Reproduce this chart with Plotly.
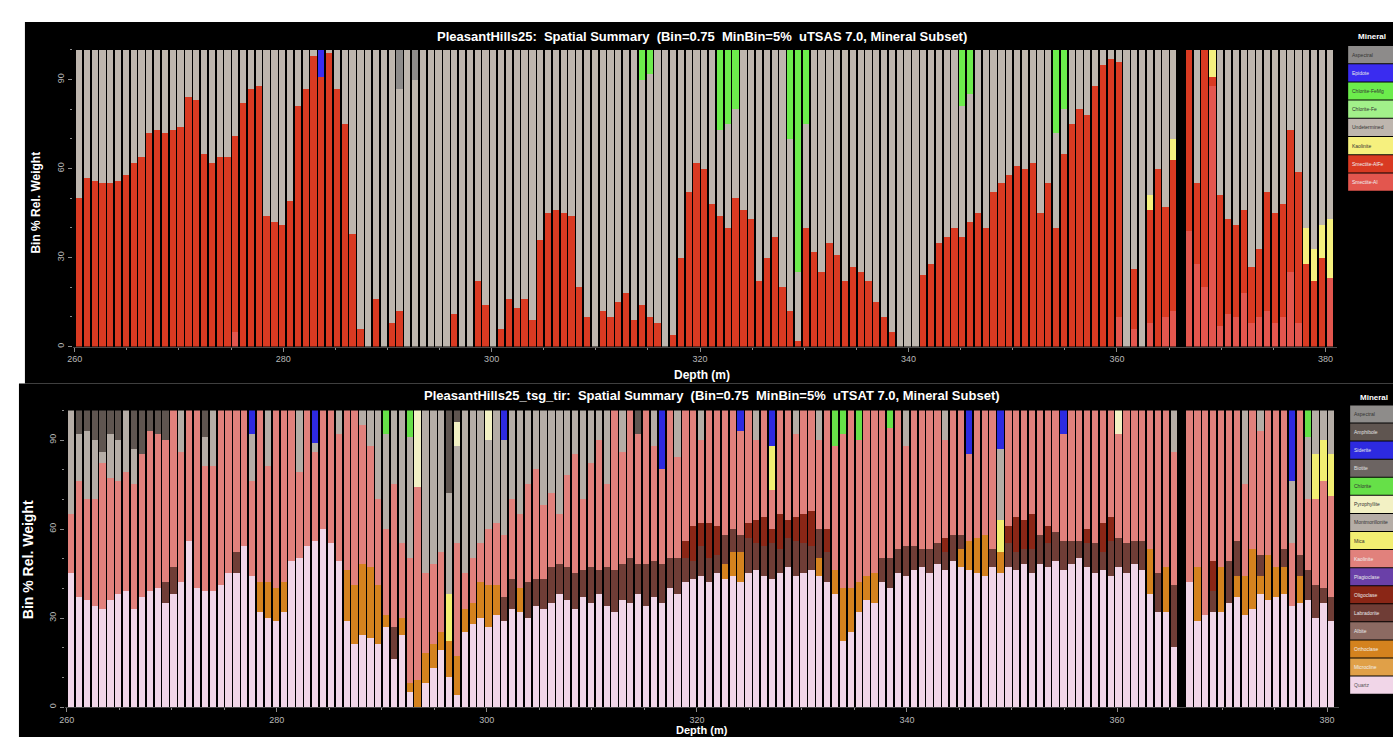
import plotly.graph_objects as go

W, H = 1393, 738

# Bin start depths (m), Bin = 0.75 m; data gap between 365.75 and 366.5 m
depth = [
    260.0, 260.75, 261.5, 262.25, 263.0, 263.75, 264.5, 265.25,
    266.0, 266.75, 267.5, 268.25, 269.0, 269.75, 270.5, 271.25,
    272.0, 272.75, 273.5, 274.25, 275.0, 275.75, 276.5, 277.25,
    278.0, 278.75, 279.5, 280.25, 281.0, 281.75, 282.5, 283.25,
    284.0, 284.75, 285.5, 286.25, 287.0, 287.75, 288.5, 289.25,
    290.0, 290.75, 291.5, 292.25, 293.0, 293.75, 294.5, 295.25,
    296.0, 296.75, 297.5, 298.25, 299.0, 299.75, 300.5, 301.25,
    302.0, 302.75, 303.5, 304.25, 305.0, 305.75, 306.5, 307.25,
    308.0, 308.75, 309.5, 310.25, 311.0, 311.75, 312.5, 313.25,
    314.0, 314.75, 315.5, 316.25, 317.0, 317.75, 318.5, 319.25,
    320.0, 320.75, 321.5, 322.25, 323.0, 323.75, 324.5, 325.25,
    326.0, 326.75, 327.5, 328.25, 329.0, 329.75, 330.5, 331.25,
    332.0, 332.75, 333.5, 334.25, 335.0, 335.75, 336.5, 337.25,
    338.0, 338.75, 339.5, 340.25, 341.0, 341.75, 342.5, 343.25,
    344.0, 344.75, 345.5, 346.25, 347.0, 347.75, 348.5, 349.25,
    350.0, 350.75, 351.5, 352.25, 353.0, 353.75, 354.5, 355.25,
    356.0, 356.75, 357.5, 358.25, 359.0, 359.75, 360.5, 361.25,
    362.0, 362.75, 363.5, 364.25, 365.0,
    366.5, 367.25, 368.0, 368.75, 369.5, 370.25, 371.0, 371.75,
    372.5, 373.25, 374.0, 374.75, 375.5, 376.25, 377.0, 377.75,
    378.5, 379.25, 380.0,
]

# ---------------- uTSAS (SWIR) mineral subset, % per bin ----------------
tsas_names = ["Aspectral", "Epidote", "Chlorite-FeMg", "Chlorite-Fe",
              "Undetermined", "Kaolinite", "Smectite-AlFe", "Smectite-Al"]
tsas_colors = ["#8d8b8a", "#3a2cf0", "#6cec4c", "#a2f08a",
               "#beb6ae", "#f6f07e", "#d93a22", "#e3564e"]
tsas_text = ["#333333", "#e8e8e8", "#333333", "#333333",
             "#333333", "#333333", "#f0f0f0", "#f0f0f0"]

tsas_smectite_al = [
    0, 0, 0, 0, 0, 0, 0, 0, 0, 0,
    0, 0, 0, 0, 0, 0, 0, 0, 0, 0,
    5, 0, 0, 0, 0, 0, 0, 0, 0, 0,
    0, 0, 0, 0, 0, 0, 0, 0, 0, 0,
    0, 0, 0, 0, 0, 0, 0, 0, 0, 0,
    0, 0, 0, 0, 0, 0, 0, 0, 0, 0,
    0, 0, 0, 0, 0, 0, 0, 0, 0, 0,
    0, 0, 0, 0, 0, 0, 0, 0, 0, 0,
    0, 0, 0, 0, 0, 0, 0, 0, 0, 0,
    0, 0, 0, 0, 0, 0, 0, 0, 0, 0,
    0, 0, 0, 0, 0, 0, 0, 0, 0, 0,
    0, 0, 0, 0, 0, 0, 0, 0, 0, 0,
    0, 0, 0, 0, 0, 0, 0, 0, 0, 0,
    0, 0, 0, 10, 0, 6, 0, 8, 0, 10,
    12,
    39, 28, 20, 88, 7, 11, 10, 18, 8, 10, 12, 8, 10, 25, 8, 0, 0, 0, 23,
]
tsas_smectite_alfe = [
    50, 57, 56, 55, 55, 56, 58, 62, 64, 72,
    73, 72, 73, 74, 84, 83, 65, 62, 64, 64,
    66, 82, 87, 88, 44, 42, 41, 49, 81, 87,
    98, 91, 99, 87, 75, 38, 6, 0, 16, 0,
    8, 12, 0, 0, 0, 0, 0, 0, 11, 0,
    0, 22, 14, 0, 6, 16, 13, 16, 9, 36,
    45, 46, 45, 44, 20, 10, 0, 12, 10, 15,
    18, 9, 14, 10, 8, 0, 4, 30, 52, 62,
    60, 48, 44, 40, 50, 46, 43, 22, 30, 37,
    20, 12, 2, 40, 32, 25, 35, 31, 22, 27,
    25, 22, 15, 10, 5, 0, 0, 0, 24, 28,
    35, 37, 40, 37, 42, 45, 40, 52, 55, 58,
    61, 60, 62, 45, 55, 40, 65, 75, 80, 78,
    88, 95, 97, 86, 0, 20, 0, 38, 60, 37,
    51,
    61, 27, 80, 3, 44, 32, 31, 28, 19, 23, 40, 37, 38, 48, 51, 28, 22, 30, 0,
]
tsas_kaolinite = [
    0, 0, 0, 0, 0, 0, 0, 0, 0, 0,
    0, 0, 0, 0, 0, 0, 0, 0, 0, 0,
    0, 0, 0, 0, 0, 0, 0, 0, 0, 0,
    0, 0, 0, 0, 0, 0, 0, 0, 0, 0,
    0, 0, 0, 0, 0, 0, 0, 0, 0, 0,
    0, 0, 0, 0, 0, 0, 0, 0, 0, 0,
    0, 0, 0, 0, 0, 0, 0, 0, 0, 0,
    0, 0, 0, 0, 0, 0, 0, 0, 0, 0,
    0, 0, 0, 0, 0, 0, 0, 0, 0, 0,
    0, 0, 0, 0, 0, 0, 0, 0, 0, 0,
    0, 0, 0, 0, 0, 0, 0, 0, 0, 0,
    0, 0, 0, 0, 0, 0, 0, 0, 0, 0,
    0, 0, 0, 0, 0, 0, 0, 0, 0, 0,
    0, 0, 0, 0, 0, 0, 0, 5, 0, 0,
    7,
    0, 0, 0, 9, 0, 0, 0, 0, 0, 0, 0, 0, 0, 0, 0, 12, 11, 11, 20,
]
tsas_undetermined = [
    50, 43, 44, 45, 45, 44, 42, 38, 36, 28,
    27, 28, 27, 26, 16, 17, 35, 38, 36, 36,
    29, 18, 13, 12, 56, 58, 59, 51, 19, 13,
    2, 0, 1, 13, 25, 62, 94, 100, 84, 100,
    92, 75, 100, 90, 100, 100, 100, 100, 89, 100,
    100, 78, 86, 100, 94, 84, 87, 84, 91, 64,
    55, 54, 55, 56, 80, 90, 100, 88, 90, 85,
    82, 91, 76, 82, 92, 100, 96, 70, 48, 38,
    40, 52, 29, 35, 30, 54, 57, 78, 70, 63,
    80, 58, 23, 35, 68, 75, 65, 69, 78, 73,
    75, 78, 85, 90, 95, 100, 100, 100, 76, 72,
    65, 63, 60, 44, 43, 55, 60, 48, 45, 42,
    39, 40, 38, 55, 45, 32, 15, 25, 20, 22,
    12, 5, 3, 4, 100, 74, 100, 49, 40, 53,
    30,
    0, 45, 0, 0, 49, 57, 59, 54, 73, 67, 48, 55, 52, 27, 41, 60, 67, 59, 57,
]
tsas_chlorite_femg = [
    0, 0, 0, 0, 0, 0, 0, 0, 0, 0,
    0, 0, 0, 0, 0, 0, 0, 0, 0, 0,
    0, 0, 0, 0, 0, 0, 0, 0, 0, 0,
    0, 0, 0, 0, 0, 0, 0, 0, 0, 0,
    0, 0, 0, 0, 0, 0, 0, 0, 0, 0,
    0, 0, 0, 0, 0, 0, 0, 0, 0, 0,
    0, 0, 0, 0, 0, 0, 0, 0, 0, 0,
    0, 0, 10, 8, 0, 0, 0, 0, 0, 0,
    0, 0, 27, 25, 20, 0, 0, 0, 0, 0,
    0, 30, 75, 25, 0, 0, 0, 0, 0, 0,
    0, 0, 0, 0, 0, 0, 0, 0, 0, 0,
    0, 0, 0, 19, 15, 0, 0, 0, 0, 0,
    0, 0, 0, 0, 0, 28, 20, 0, 0, 0,
    0, 0, 0, 0, 0, 0, 0, 0, 0, 0,
    0,
    0, 0, 0, 0, 0, 0, 0, 0, 0, 0, 0, 0, 0, 0, 0, 0, 0, 0, 0,
]
tsas_epidote = [
    0, 0, 0, 0, 0, 0, 0, 0, 0, 0,
    0, 0, 0, 0, 0, 0, 0, 0, 0, 0,
    0, 0, 0, 0, 0, 0, 0, 0, 0, 0,
    0, 9, 0, 0, 0, 0, 0, 0, 0, 0,
    0, 0, 0, 0, 0, 0, 0, 0, 0, 0,
    0, 0, 0, 0, 0, 0, 0, 0, 0, 0,
    0, 0, 0, 0, 0, 0, 0, 0, 0, 0,
    0, 0, 0, 0, 0, 0, 0, 0, 0, 0,
    0, 0, 0, 0, 0, 0, 0, 0, 0, 0,
    0, 0, 0, 0, 0, 0, 0, 0, 0, 0,
    0, 0, 0, 0, 0, 0, 0, 0, 0, 0,
    0, 0, 0, 0, 0, 0, 0, 0, 0, 0,
    0, 0, 0, 0, 0, 0, 0, 0, 0, 0,
    0, 0, 0, 0, 0, 0, 0, 0, 0, 0,
    0,
    0, 0, 0, 0, 0, 0, 0, 0, 0, 0, 0, 0, 0, 0, 0, 0, 0, 0, 0,
]
tsas_aspectral = [
    0, 0, 0, 0, 0, 0, 0, 0, 0, 0,
    0, 0, 0, 0, 0, 0, 0, 0, 0, 0,
    0, 0, 0, 0, 0, 0, 0, 0, 0, 0,
    0, 0, 0, 0, 0, 0, 0, 0, 0, 0,
    0, 13, 0, 10, 0, 0, 0, 0, 0, 0,
    0, 0, 0, 0, 0, 0, 0, 0, 0, 0,
    0, 0, 0, 0, 0, 0, 0, 0, 0, 0,
    0, 0, 0, 0, 0, 0, 0, 0, 0, 0,
    0, 0, 0, 0, 0, 0, 0, 0, 0, 0,
    0, 0, 0, 0, 0, 0, 0, 0, 0, 0,
    0, 0, 0, 0, 0, 0, 0, 0, 0, 0,
    0, 0, 0, 0, 0, 0, 0, 0, 0, 0,
    0, 0, 0, 0, 0, 0, 0, 0, 0, 0,
    0, 0, 0, 0, 0, 0, 0, 0, 0, 0,
    0,
    0, 0, 0, 0, 0, 0, 0, 0, 0, 0, 0, 0, 0, 0, 0, 0, 0, 0, 0,
]

# stacking order, bottom to top
tsas_stack = [
    ("Smectite-Al", tsas_smectite_al),
    ("Smectite-AlFe", tsas_smectite_alfe),
    ("Kaolinite", tsas_kaolinite),
    ("Undetermined", tsas_undetermined),
    ("Chlorite-FeMg", tsas_chlorite_femg),
    ("Epidote", tsas_epidote),
    ("Aspectral", tsas_aspectral),
]

# ---------------- uTSAT (TIR) mineral subset, % per bin ----------------
tsat_names = ["Aspectral", "Amphibole", "Siderite", "Biotite", "Chlorite",
              "Pyrophyllite", "Montmorillonite", "Mica", "Kaolinite",
              "Plagioclase", "Oligoclase", "Labradorite", "Albite",
              "Orthoclase", "Microcline", "Quartz"]
tsat_colors = ["#8e8c8a", "#5f5550", "#2d2ae0", "#6c6462", "#66e048",
               "#f3f1c4", "#b5ada6", "#f2ee72", "#e1817c",
               "#6a40a8", "#8a2616", "#6f3d36", "#8c6a62",
               "#d4821e", "#e0a048", "#f1d6e8"]
tsat_text = ["#333333", "#e0e0e0", "#e8e8e8", "#e0e0e0", "#333333",
             "#333333", "#333333", "#333333", "#f0f0f0",
             "#e8e8e8", "#e8e8e8", "#e8e8e8", "#e8e8e8",
             "#f0f0f0", "#f0f0f0", "#555555"]

tsat_quartz = [
    45, 37, 36, 34, 33, 36, 38, 39, 33, 37,
    39, 40, 35, 38, 42, 56, 40, 39, 39, 41,
    45, 45, 54, 44, 32, 30, 29, 32, 49, 50,
    54, 56, 60, 55, 49, 29, 21, 24, 23, 21,
    27, 16, 24, 5, 0, 8, 13, 19, 10, 4,
    25, 28, 30, 27, 31, 29, 33, 32, 30, 34,
    33, 35, 38, 36, 33, 37, 35, 38, 34, 32,
    36, 35, 38, 34, 37, 35, 40, 38, 42, 43,
    44, 42, 45, 43, 44, 42, 45, 46, 44, 43,
    45, 47, 44, 45, 46, 44, 42, 38, 22, 25,
    32, 36, 35, 42, 40, 45, 44, 46, 47, 45,
    48, 46, 49, 47, 46, 45, 44, 47, 45, 47,
    46, 48, 45, 48, 47, 49, 46, 48, 50, 47,
    45, 46, 44, 47, 45, 48, 46, 38, 32, 32,
    20,
    42, 29, 31, 32, 32, 35, 37, 31, 33, 38, 36, 37, 38, 34, 35, 36, 30, 35, 29,
]
tsat_orthoclase = [
    0, 0, 0, 0, 0, 0, 0, 0, 0, 0,
    0, 0, 0, 0, 0, 0, 0, 0, 0, 0,
    0, 0, 0, 0, 10, 12, 11, 10, 0, 0,
    0, 0, 0, 0, 0, 17, 20, 24, 24, 20,
    4, 0, 6, 3, 9, 10, 8, 6, 12, 13,
    8, 7, 12, 14, 10, 0, 0, 8, 0, 0,
    0, 0, 0, 0, 0, 0, 0, 0, 0, 0,
    0, 0, 0, 0, 0, 0, 0, 0, 0, 0,
    0, 0, 0, 5, 8, 10, 0, 0, 0, 0,
    0, 0, 0, 0, 0, 6, 0, 8, 18, 15,
    10, 8, 10, 0, 0, 0, 0, 0, 0, 0,
    0, 0, 0, 6, 10, 12, 14, 0, 7, 0,
    0, 0, 0, 0, 0, 0, 0, 0, 0, 0,
    0, 0, 0, 0, 0, 0, 0, 15, 0, 15,
    0,
    0, 18, 0, 0, 15, 0, 7, 13, 20, 6, 15, 10, 9, 0, 9, 0, 0, 0, 0,
]
tsat_labradorite = [
    0, 0, 0, 0, 0, 0, 0, 0, 0, 0,
    0, 0, 7, 9, 0, 0, 0, 0, 0, 0,
    0, 7, 0, 0, 0, 0, 0, 0, 0, 0,
    0, 0, 0, 0, 0, 0, 0, 0, 0, 0,
    0, 11, 0, 0, 0, 0, 0, 0, 0, 0,
    0, 0, 0, 0, 0, 8, 10, 0, 12, 9,
    10, 12, 10, 11, 12, 9, 12, 8, 13, 14,
    12, 15, 10, 14, 12, 13, 10, 12, 8, 6,
    10, 8, 6, 10, 8, 6, 12, 9, 10, 12,
    8, 10, 12, 10, 8, 10, 10, 0, 0, 0,
    0, 0, 0, 8, 10, 8, 10, 8, 6, 8,
    7, 6, 9, 5, 0, 0, 0, 6, 0, 8,
    6, 5, 8, 10, 8, 10, 10, 8, 6, 8,
    10, 6, 12, 10, 10, 8, 10, 0, 13, 0,
    21,
    0, 0, 0, 7, 0, 14, 12, 0, 0, 7, 0, 0, 6, 0, 7, 10, 11, 5, 8,
]
tsat_oligoclase = [
    0, 0, 0, 0, 0, 0, 0, 0, 0, 0,
    0, 0, 0, 0, 0, 0, 0, 0, 0, 0,
    0, 0, 0, 0, 0, 0, 0, 0, 0, 0,
    0, 0, 0, 0, 0, 0, 0, 0, 0, 0,
    0, 0, 0, 0, 0, 0, 0, 0, 0, 0,
    0, 0, 0, 0, 0, 0, 0, 0, 0, 0,
    0, 0, 0, 0, 0, 0, 0, 0, 0, 0,
    0, 0, 0, 0, 0, 0, 0, 0, 6, 12,
    8, 12, 10, 0, 0, 0, 5, 8, 10, 5,
    12, 6, 8, 10, 12, 0, 8, 0, 0, 0,
    0, 0, 0, 0, 0, 0, 0, 0, 0, 0,
    0, 5, 0, 0, 0, 0, 0, 0, 0, 6,
    12, 10, 12, 0, 6, 0, 0, 0, 0, 5,
    0, 10, 8, 0, 0, 0, 0, 0, 0, 0,
    0,
    0, 0, 0, 10, 0, 0, 0, 0, 0, 0, 0, 0, 0, 0, 0, 0, 0, 0, 0,
]
tsat_kaolinite = [
    20, 39, 34, 36, 49, 41, 38, 40, 42, 48,
    54, 52, 48, 53, 44, 44, 60, 42, 42, 59,
    55, 48, 46, 32, 58, 39, 60, 58, 51, 29,
    46, 30, 40, 45, 43, 54, 59, 47, 41, 29,
    29, 48, 25, 42, 65, 27, 27, 27, 0, 38,
    12, 15, 13, 19, 21, 21, 27, 25, 33, 37,
    25, 25, 17, 31, 40, 24, 35, 44, 28, 54,
    38, 50, 44, 52, 39, 32, 50, 34, 44, 39,
    28, 38, 39, 42, 40, 35, 38, 27, 36, 13,
    35, 37, 28, 35, 34, 30, 40, 42, 52, 60,
    48, 56, 55, 50, 44, 47, 34, 46, 47, 47,
    45, 33, 42, 42, 29, 43, 42, 47, 0, 39,
    36, 37, 35, 42, 39, 41, 36, 44, 44, 40,
    45, 38, 36, 35, 45, 44, 44, 47, 55, 53,
    45,
    58, 53, 69, 51, 53, 51, 44, 31, 47, 42, 49, 53, 47, 21, 49, 24, 29, 36, 34,
]
tsat_mica = [
    0, 0, 0, 0, 0, 0, 0, 0, 0, 0,
    0, 0, 0, 0, 0, 0, 0, 0, 0, 0,
    0, 0, 0, 0, 0, 0, 0, 0, 0, 0,
    0, 0, 0, 0, 0, 0, 0, 0, 0, 0,
    0, 0, 0, 0, 0, 0, 0, 0, 16, 0,
    0, 0, 0, 0, 0, 0, 0, 0, 0, 0,
    0, 0, 0, 0, 0, 0, 0, 0, 0, 0,
    0, 0, 0, 0, 0, 0, 0, 0, 0, 0,
    0, 0, 0, 0, 0, 0, 0, 0, 0, 15,
    0, 0, 0, 0, 0, 0, 0, 0, 0, 0,
    0, 0, 0, 0, 0, 0, 0, 0, 0, 0,
    0, 0, 0, 0, 0, 0, 0, 0, 11, 0,
    0, 0, 0, 0, 0, 0, 0, 0, 0, 0,
    0, 0, 0, 0, 0, 0, 0, 0, 0, 0,
    0,
    0, 0, 0, 0, 0, 0, 0, 0, 0, 0, 0, 0, 0, 0, 0, 0, 15, 14, 14,
]
tsat_montmorillonite = [
    35, 16, 23, 20, 4, 15, 14, 21, 12, 0,
    0, 0, 0, 0, 14, 0, 0, 10, 19, 0,
    0, 0, 0, 16, 0, 19, 0, 0, 0, 21,
    0, 3, 0, 0, 8, 0, 0, 5, 12, 30,
    32, 25, 45, 41, 0, 55, 52, 48, 34, 33,
    55, 50, 45, 30, 38, 32, 30, 35, 25, 20,
    32, 28, 35, 22, 15, 30, 18, 10, 25, 0,
    14, 0, 0, 0, 12, 0, 0, 16, 0, 0,
    10, 0, 0, 0, 0, 0, 0, 10, 0, 0,
    0, 0, 8, 0, 0, 10, 0, 0, 0, 0,
    0, 0, 0, 0, 0, 0, 12, 0, 0, 0,
    0, 10, 0, 0, 0, 0, 0, 0, 24, 0,
    0, 0, 0, 0, 0, 0, 0, 0, 0, 0,
    0, 0, 0, 0, 0, 0, 0, 0, 0, 0,
    14,
    0, 0, 0, 0, 0, 0, 0, 25, 0, 7, 0, 0, 0, 21, 0, 21, 15, 10, 15,
]
tsat_pyrophyllite = [
    0, 0, 0, 0, 0, 0, 0, 0, 0, 0,
    0, 0, 0, 0, 0, 0, 0, 0, 0, 0,
    0, 0, 0, 0, 0, 0, 0, 0, 0, 0,
    0, 0, 0, 0, 0, 0, 0, 0, 0, 0,
    0, 0, 0, 0, 26, 0, 0, 0, 0, 8,
    0, 0, 0, 10, 0, 0, 0, 0, 0, 0,
    0, 0, 0, 0, 0, 0, 0, 0, 0, 0,
    0, 0, 0, 0, 0, 0, 0, 0, 0, 0,
    0, 0, 0, 0, 0, 0, 0, 0, 0, 0,
    0, 0, 0, 0, 0, 0, 0, 0, 0, 0,
    0, 0, 0, 0, 0, 0, 0, 0, 0, 0,
    0, 0, 0, 0, 0, 0, 0, 0, 0, 0,
    0, 0, 0, 0, 0, 0, 0, 0, 0, 0,
    0, 0, 0, 8, 0, 0, 0, 0, 0, 0,
    0,
    0, 0, 0, 0, 0, 0, 0, 0, 0, 0, 0, 0, 0, 0, 0, 0, 0, 0, 0,
]
tsat_chlorite = [
    0, 0, 0, 0, 0, 0, 0, 0, 0, 0,
    0, 0, 0, 0, 0, 0, 0, 0, 0, 0,
    0, 0, 0, 0, 0, 0, 0, 0, 0, 0,
    0, 0, 0, 0, 0, 0, 0, 0, 0, 0,
    8, 0, 0, 9, 0, 0, 0, 0, 0, 0,
    0, 0, 0, 0, 0, 0, 0, 0, 0, 0,
    0, 0, 0, 0, 0, 0, 0, 0, 0, 0,
    0, 0, 0, 0, 0, 0, 0, 0, 0, 0,
    0, 0, 0, 0, 0, 0, 0, 0, 0, 0,
    0, 0, 0, 0, 0, 0, 0, 12, 8, 0,
    10, 0, 0, 0, 6, 0, 0, 0, 0, 0,
    0, 0, 0, 0, 0, 0, 0, 0, 0, 0,
    0, 0, 0, 0, 0, 0, 0, 0, 0, 0,
    0, 0, 0, 0, 0, 0, 0, 0, 0, 0,
    0,
    0, 0, 0, 0, 0, 0, 0, 0, 0, 0, 0, 0, 0, 0, 0, 9, 0, 0, 0,
]
tsat_siderite = [
    0, 0, 0, 0, 0, 0, 0, 0, 0, 0,
    0, 0, 0, 0, 0, 0, 0, 0, 0, 0,
    0, 0, 0, 8, 0, 0, 0, 0, 0, 0,
    0, 11, 0, 0, 0, 0, 0, 0, 0, 0,
    0, 0, 0, 0, 0, 0, 0, 0, 0, 0,
    0, 0, 0, 0, 0, 10, 0, 0, 0, 0,
    0, 0, 0, 0, 0, 0, 0, 0, 0, 0,
    0, 0, 0, 0, 0, 20, 0, 0, 0, 0,
    0, 0, 0, 0, 0, 7, 0, 0, 0, 12,
    0, 0, 0, 0, 0, 0, 0, 0, 0, 0,
    0, 0, 0, 0, 0, 0, 0, 0, 0, 0,
    0, 0, 0, 0, 15, 0, 0, 0, 13, 0,
    0, 0, 0, 0, 0, 0, 8, 0, 0, 0,
    0, 0, 0, 0, 0, 0, 0, 0, 0, 0,
    0,
    0, 0, 0, 0, 0, 0, 0, 0, 0, 0, 0, 0, 0, 24, 0, 0, 0, 0, 0,
]
tsat_amphibole = [
    0, 8, 7, 10, 14, 8, 10, 0, 13, 15,
    7, 8, 10, 0, 0, 0, 0, 9, 0, 0,
    0, 0, 0, 0, 0, 0, 0, 0, 0, 0,
    0, 0, 0, 0, 0, 0, 0, 0, 0, 0,
    0, 0, 0, 0, 0, 0, 0, 0, 28, 4,
    0, 0, 0, 0, 0, 0, 0, 0, 0, 0,
    0, 0, 0, 0, 0, 0, 0, 0, 0, 0,
    0, 0, 8, 0, 0, 0, 0, 0, 0, 0,
    0, 0, 0, 0, 0, 0, 0, 0, 0, 0,
    0, 0, 0, 0, 0, 0, 0, 0, 0, 0,
    0, 0, 0, 0, 0, 0, 0, 0, 0, 0,
    0, 0, 0, 0, 0, 0, 0, 0, 0, 0,
    0, 0, 0, 0, 0, 0, 0, 0, 0, 0,
    0, 0, 0, 0, 0, 0, 0, 0, 0, 0,
    0,
    0, 0, 0, 0, 0, 0, 0, 0, 0, 0, 0, 0, 0, 0, 0, 0, 0, 0, 0,
]

tsat_stack = [
    ("Quartz", tsat_quartz),
    ("Orthoclase", tsat_orthoclase),
    ("Labradorite", tsat_labradorite),
    ("Oligoclase", tsat_oligoclase),
    ("Kaolinite", tsat_kaolinite),
    ("Mica", tsat_mica),
    ("Montmorillonite", tsat_montmorillonite),
    ("Pyrophyllite", tsat_pyrophyllite),
    ("Chlorite", tsat_chlorite),
    ("Siderite", tsat_siderite),
    ("Amphibole", tsat_amphibole),
]


def px(x):
    return x / W


def py(y):
    return 1 - y / H


fig = go.Figure()

tsas_color_of = dict(zip(tsas_names, tsas_colors))
for name, vals in tsas_stack:
    fig.add_trace(go.Bar(
        x=depth, y=vals, name=name, width=0.6, offset=0.075,
        marker=dict(color=tsas_color_of[name], line=dict(width=0)),
        xaxis="x", yaxis="y", showlegend=False,
    ))

tsat_color_of = dict(zip(tsat_names, tsat_colors))
for name, vals in tsat_stack:
    fig.add_trace(go.Bar(
        x=depth, y=vals, name=name, width=0.6, offset=0.075,
        marker=dict(color=tsat_color_of[name], line=dict(width=0)),
        xaxis="x2", yaxis="y2", showlegend=False,
    ))

tickfont = dict(family="Arial, Liberation Sans", size=9, color="#b8b8b8")
xcommon = dict(
    range=[259.8, 381.1], tick0=260, dtick=20, ticks="outside", ticklen=4,
    tickcolor="#8a8a8a", tickfont=tickfont, showgrid=False, zeroline=False,
    showline=True, linecolor="#4a4a4a", linewidth=1,
    minor=dict(dtick=5, ticks="outside", ticklen=2, tickcolor="#8a8a8a"),
)
ycommon = dict(
    range=[0, 100], tick0=0, dtick=30, tickangle=-90, ticks="outside",
    ticklen=4, tickcolor="#8a8a8a", tickfont=tickfont, showgrid=False,
    zeroline=False, showline=False,
    minor=dict(dtick=10, ticks="outside", ticklen=2, tickcolor="#8a8a8a"),
)

shapes = [
    dict(type="rect", xref="paper", yref="paper", x0=px(20), x1=1.0,
         y0=py(384), y1=py(22), fillcolor="#000000", line=dict(width=0),
         layer="below"),
    dict(type="rect", xref="paper", yref="paper", x0=px(14), x1=1.0,
         y0=0.0, y1=py(384), fillcolor="#000000", line=dict(width=0),
         layer="below"),
]

bold = "Arial, Liberation Sans"
annotations = [
    dict(text="<b>PleasantHills25:  Spatial Summary  (Bin=0.75  MinBin=5%  uTSAS 7.0, Mineral Subset)</b>",
         x=px(700), y=py(37), xref="paper", yref="paper", showarrow=False,
         xanchor="center", yanchor="middle",
         font=dict(family=bold, size=13, color="#ffffff")),
    dict(text="<b>PleasantHills25_tsg_tir:  Spatial Summary  (Bin=0.75  MinBin=5%  uTSAT 7.0, Mineral Subset)</b>",
         x=px(710), y=py(396), xref="paper", yref="paper", showarrow=False,
         xanchor="center", yanchor="middle",
         font=dict(family=bold, size=13, color="#ffffff")),
    dict(text="<b>Bin % Rel. Weight</b>", x=px(31), y=py(203), xref="paper",
         yref="paper", showarrow=False, textangle=-90, xanchor="center",
         yanchor="middle", font=dict(family=bold, size=12, color="#ffffff")),
    dict(text="<b>Bin % Rel. Weight</b>", x=px(23), y=py(560), xref="paper",
         yref="paper", showarrow=False, textangle=-90, xanchor="center",
         yanchor="middle", font=dict(family=bold, size=14, color="#ffffff")),
    dict(text="<b>Depth (m)</b>", x=px(700), y=py(376), xref="paper",
         yref="paper", showarrow=False, xanchor="center", yanchor="middle",
         font=dict(family=bold, size=12, color="#ffffff")),
    dict(text="<b>Depth (m)</b>", x=px(700), y=py(731), xref="paper",
         yref="paper", showarrow=False, xanchor="center", yanchor="middle",
         font=dict(family=bold, size=11, color="#ffffff")),
]


def add_legend(names, colors, txt, x_left, y_title, y_first, step):
    annotations.append(dict(
        text="<b>Mineral</b>", x=px(x_left + 8), y=py(y_title),
        xref="paper", yref="paper", showarrow=False, xanchor="left",
        yanchor="middle", font=dict(family=bold, size=8, color="#ffffff")))
    for i, (nm, col, tc) in enumerate(zip(names, colors, txt)):
        top = y_first + i * step
        shapes.append(dict(
            type="rect", xref="paper", yref="paper", x0=px(x_left), x1=1.0,
            y0=py(top + step - 1), y1=py(top), fillcolor=col,
            line=dict(width=0)))
        annotations.append(dict(
            text=nm, x=px(x_left + 2), y=py(top + step / 2 - 0.5),
            xref="paper", yref="paper", showarrow=False, xanchor="left",
            yanchor="middle", font=dict(family="Arial, Liberation Sans",
                                        size=5, color=tc)))


add_legend(tsas_names, tsas_colors, tsas_text, 1348, 37, 46, 18.25)
add_legend(tsat_names, tsat_colors, tsat_text, 1350, 398, 406, 18.1)

fig.update_layout(
    width=W, height=H, margin=dict(l=0, r=0, t=0, b=0),
    paper_bgcolor="#ffffff", plot_bgcolor="#000000",
    barmode="stack", bargap=0, showlegend=False,
    xaxis=dict(domain=[px(67.9), px(1336.7)], anchor="y", **xcommon),
    yaxis=dict(domain=[py(347), py(50)], anchor="x", **ycommon),
    xaxis2=dict(domain=[px(59.9), px(1338.4)], anchor="y2", **xcommon),
    yaxis2=dict(domain=[py(708), py(411)], anchor="x2", **ycommon),
    shapes=shapes, annotations=annotations,
)

fig.write_html("out.html", config={"displayModeBar": False})
